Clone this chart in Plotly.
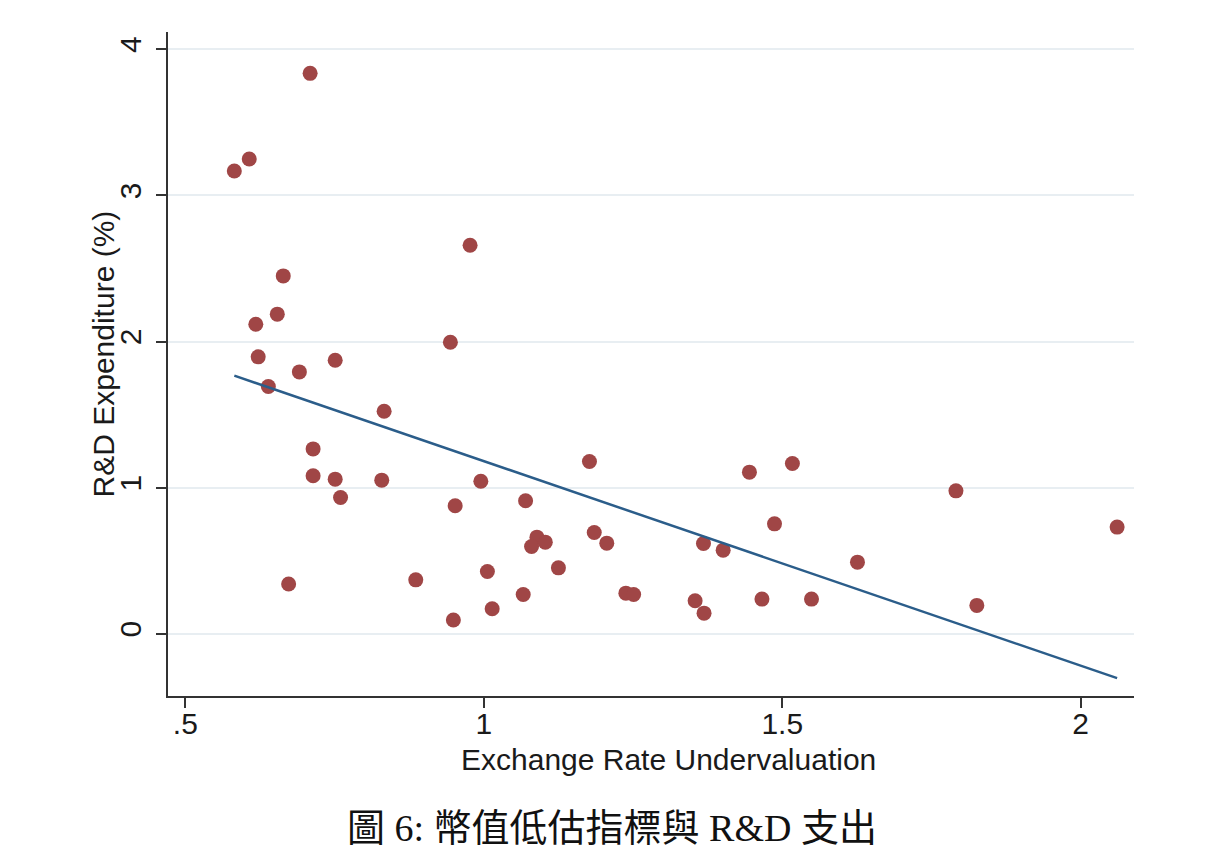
import numpy as np
import plotly.graph_objects as go

# exchange rate undervaluation index (x) and R&D expenditure % (y)
undervaluation = [
    0.582, 0.607, 0.709, 0.977, 0.664, 0.654, 0.618, 0.944, 0.622, 0.751,
    0.691, 0.639, 0.833, 0.714, 0.714, 0.751, 0.829, 0.760, 0.995, 0.952,
    1.070, 0.673, 0.886, 0.949, 1.006, 1.014, 1.066, 1.089, 1.080, 1.103,
    1.125, 1.177, 1.185, 1.206, 1.238, 1.251, 1.368, 1.401, 1.354, 1.369,
    1.445, 1.517, 1.487, 1.466, 1.549, 1.626, 1.791, 1.826, 2.061,
]
rd_expenditure = [
    3.167, 3.249, 3.835, 2.659, 2.449, 2.187, 2.118, 1.995, 1.895, 1.872,
    1.792, 1.692, 1.523, 1.265, 1.081, 1.058, 1.051, 0.932, 1.044, 0.876,
    0.910, 0.340, 0.369, 0.094, 0.426, 0.171, 0.269, 0.661, 0.597, 0.627,
    0.451, 1.179, 0.693, 0.620, 0.278, 0.269, 0.618, 0.572, 0.226, 0.141,
    1.106, 1.165, 0.752, 0.237, 0.237, 0.490, 0.978, 0.194, 0.730,
]

x_ticks = [0.5, 1, 1.5, 2]
x_ticklabels = [".5", "1", "1.5", "2"]
y_ticks = [0, 1, 2, 3, 4]
y_ticklabels = ["0", "1", "2", "3", "4"]

x_title = "Exchange Rate Undervaluation"
y_title = "R&D Expenditure (%)"
caption = "圖 6: 幣值低估指標與 R&D 支出"

# linear fit, like Stata's lfit
xa = np.array(undervaluation)
ya = np.array(rd_expenditure)
slope, intercept = np.polyfit(xa, ya, 1)
fit_x = np.array([xa.min(), xa.max()])
fit_y = intercept + slope * fit_x

sans = "Liberation Sans, Arial, sans-serif"

fig = go.Figure()
fig.add_trace(go.Scatter(
    x=undervaluation, y=rd_expenditure, mode="markers",
    marker=dict(color="#a04646", size=15, line=dict(width=0)),
    showlegend=False,
))
fig.add_trace(go.Scatter(
    x=fit_x, y=fit_y, mode="lines",
    line=dict(color="#2b5d8a", width=2.5),
    showlegend=False,
))

fig.update_layout(
    width=1228, height=868,
    margin=dict(l=160, r=102, t=24, b=180),
    paper_bgcolor="white", plot_bgcolor="white",
    font=dict(family=sans, size=30, color="#1a1a1a"),
    xaxis=dict(
        range=[0.4709, 2.0893], tickvals=x_ticks, ticktext=x_ticklabels,
        showgrid=False, zeroline=False,
        showline=True, linecolor="#333", linewidth=1.5,
        ticks="outside", ticklen=10, tickwidth=1.5, tickcolor="#333",
        tickfont=dict(size=30), ticklabelstandoff=-10,
    ),
    yaxis=dict(
        range=[-0.426, 4.118], tickvals=y_ticks, ticktext=y_ticklabels,
        showgrid=True, gridcolor="#e8eef2", gridwidth=2, zeroline=False,
        showline=True, linecolor="#333", linewidth=1.5,
        ticks="outside", ticklen=10, tickwidth=1.5, tickcolor="#333",
        tickangle=-90, tickfont=dict(size=30), ticklabelstandoff=3,
    ),
    annotations=[
        dict(text=x_title, xref="paper", yref="paper", x=0.5186, y=-0.0949,
             xanchor="center", yanchor="middle", showarrow=False,
             font=dict(family=sans, size=30, color="#1a1a1a")),
        dict(text=y_title, xref="paper", yref="paper", x=-0.0663, y=0.5158,
             xanchor="center", yanchor="middle", textangle=-90, showarrow=False,
             font=dict(family=sans, size=30, color="#1a1a1a")),
        dict(text=caption, xref="paper", yref="paper", x=0.4596, y=-0.1985,
             xanchor="center", yanchor="middle", showarrow=False,
             font=dict(family="Liberation Serif, Noto Sans CJK TC, serif",
                       size=38, color="#111")),
    ],
)

fig.write_html("out.html")
